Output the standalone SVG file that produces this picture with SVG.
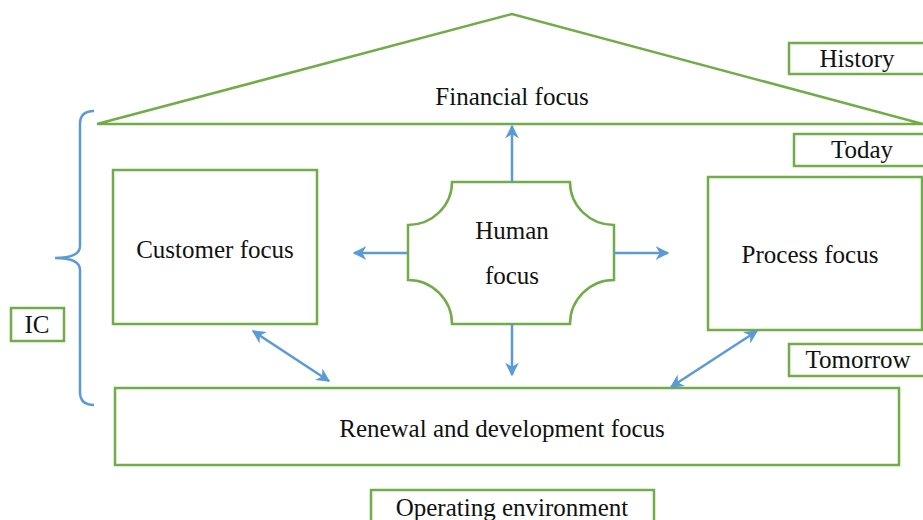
<svg xmlns="http://www.w3.org/2000/svg" width="923" height="520" viewBox="0 0 923 520">
  <style>
    .box { fill: #ffffff; stroke: #70ad47; stroke-width: 2.5; }
    .roof { fill: none; stroke: #70ad47; stroke-width: 2.5; }
    .lbl { font-family: "Liberation Serif", "Times New Roman", serif; font-size: 25px; fill: #111111; text-anchor: middle; }
    .con { fill: none; stroke: #5b9bd5; stroke-width: 2.5; }
  </style>
  <defs>
    <marker id="ah" viewBox="0 0 10 10" refX="9" refY="5" markerWidth="5.5" markerHeight="5.5" orient="auto-start-reverse" markerUnits="strokeWidth">
      <path d="M0,0 L10,5 L0,10 L3,5 Z" fill="#5b9bd5"/>
    </marker>
  </defs>
  <rect width="923" height="520" fill="#ffffff"/>

  <g id="financial">
    <path class="roof" d="M97,124 L512,14 L923,124 M97,124 L923,124"/>
    <text class="lbl" x="512" y="105">Financial focus</text>
  </g>

  <g id="history">
    <rect class="box" x="789" y="43" width="140" height="31"/>
    <text class="lbl" x="857" y="67">History</text>
  </g>
  <g id="today">
    <rect class="box" x="794" y="134" width="135" height="32"/>
    <text class="lbl" x="862" y="158">Today</text>
  </g>
  <g id="tomorrow">
    <rect class="box" x="789" y="344" width="140" height="32"/>
    <text class="lbl" x="858" y="368">Tomorrow</text>
  </g>

  <g id="ic">
    <rect class="box" x="11" y="308" width="53" height="33"/>
    <text class="lbl" x="37" y="333">IC</text>
  </g>
  <g id="ic-brace">
    <path class="con" d="M94,111 Q80,111 80,124 L80,246 Q80,258 55,258 Q80,258 80,270 L80,392 Q80,405 94,405"/>
  </g>

  <g id="customer">
    <rect class="box" x="113" y="170" width="204" height="154"/>
    <text class="lbl" x="215" y="258">Customer focus</text>
  </g>

  <g id="human">
    <path class="box" d="M452,182 L570,182 A44,43 0 0 0 614,225 L614,280 A44,44 0 0 0 570,324 L452,324 A44,44 0 0 0 408,280 L408,225 A44,43 0 0 0 452,182 Z"/>
    <text class="lbl" x="512" y="239">Human</text>
    <text class="lbl" x="512" y="284">focus</text>
  </g>

  <g id="process">
    <rect class="box" x="708" y="177" width="214" height="153"/>
    <text class="lbl" x="810" y="263">Process focus</text>
  </g>

  <g id="renewal">
    <rect class="box" x="115" y="388" width="784" height="77"/>
    <text class="lbl" x="502" y="437">Renewal and development focus</text>
  </g>

  <g id="environment">
    <rect class="box" x="371" y="490" width="283" height="40"/>
    <text class="lbl" x="512" y="516">Operating environment</text>
  </g>

  <g id="connectors">
    <line class="con" x1="512" y1="182" x2="512" y2="126" marker-end="url(#ah)"/>
    <line class="con" x1="408" y1="253" x2="354" y2="253" marker-end="url(#ah)"/>
    <line class="con" x1="614" y1="253" x2="668" y2="253" marker-end="url(#ah)"/>
    <line class="con" x1="512" y1="324" x2="512" y2="375" marker-end="url(#ah)"/>
    <line class="con" x1="253" y1="331" x2="329" y2="381" marker-start="url(#ah)" marker-end="url(#ah)"/>
    <line class="con" x1="757" y1="331" x2="671" y2="387" marker-start="url(#ah)" marker-end="url(#ah)"/>
  </g>
</svg>
